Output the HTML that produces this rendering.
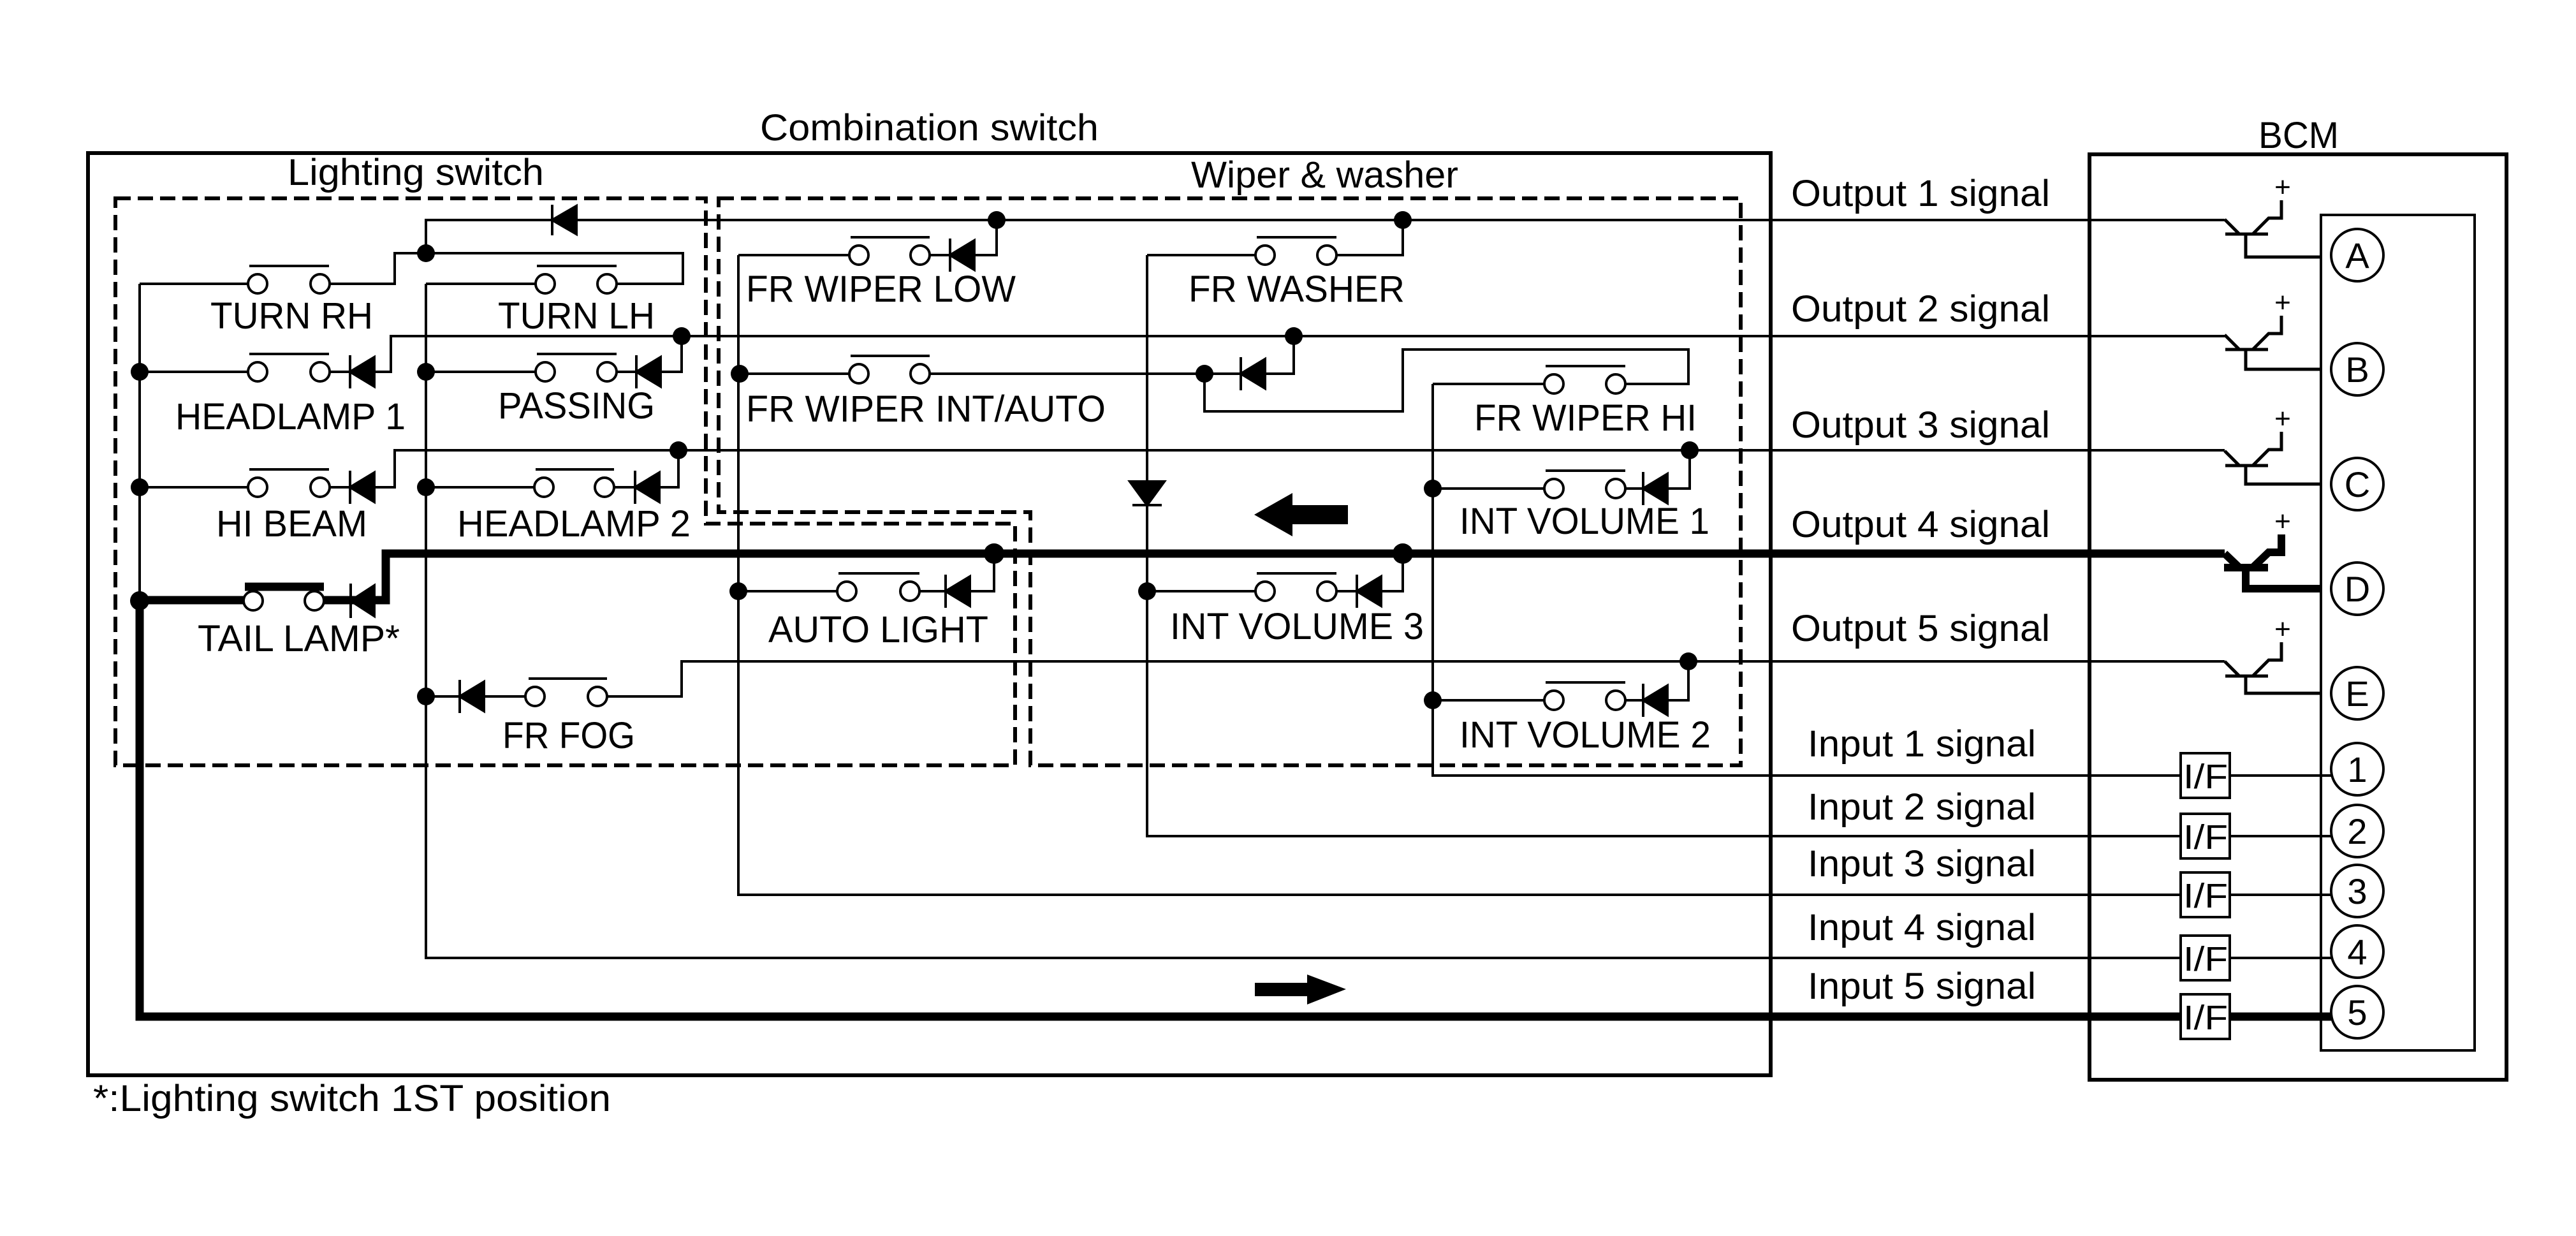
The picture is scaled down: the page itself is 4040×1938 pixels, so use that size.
<!DOCTYPE html>
<html><head><meta charset="utf-8"><style>
html,body{margin:0;padding:0;background:#fff}
svg{display:block}
text{font-family:"Liberation Sans",sans-serif;fill:#000}
</style></head><body>
<svg width="4040" height="1938" viewBox="0 0 4040 1938" xmlns="http://www.w3.org/2000/svg">
<g fill="none" stroke="#000" stroke-width="6">
<rect x="138" y="240" width="2639" height="1446"/>
<rect x="3277" y="242" width="654" height="1451"/>
</g>
<rect x="3640" y="337" width="241" height="1310" fill="none" stroke="#000" stroke-width="4"/>
<g fill="none" stroke="#000" stroke-width="6" stroke-dasharray="24,11">
<path d="M181,311 H1107 V821 H1592 V1200 H181 Z"/>
<path d="M1127,311 H2730 V1200 H1616 V803 H1127 Z"/>
</g>
<g fill="none" stroke="#000" stroke-width="4">
<path d="M219,445 V941"/>
<path d="M668,445 V1502 H3420"/>
<path d="M1158,400 V1403 H3420"/>
<path d="M1799,400 V1311 H3420"/>
<path d="M2247,602 V1216 H3420"/>
<path d="M219,445 H389 M517,445 H619 V397 H1071 V445 H967 M840,445 H668"/>
<path d="M668,397 V345 H3489"/>
<path d="M219,583 H389 M517,583 H560 M587,583 H613 V527 H3489"/>
<path d="M668,583 H840 M967,583 H1010 M1034,583 H1069 V527"/>
<path d="M219,764 H389 M517,764 H560 M587,764 H619 V706 H3489"/>
<path d="M668,764 H838 M963,764 H1008 M1034,764 H1064 V706"/>
<path d="M668,1092 H735 M759,1092 H824 M952,1092 H1069 V1037 H3489"/>
<path d="M1158,400 H1332 M1458,400 H1500 M1528,400 H1563 V345"/>
<path d="M1799,400 H1969 M2096,400 H2200 V345"/>
<path d="M1158,586 H1332 M1458,586 H1889 H1958 M1984,586 H2029 V527"/>
<path d="M1889,586 V645 H2200 V548 H2648 V602 H2549 M2422,602 H2247"/>
<path d="M2247,766 H2422 M2549,766 H2590 M2615,766 H2650 V706"/>
<path d="M1158,927 H1313 M1442,927 H1494 M1520,927 H1559 V868"/>
<path d="M1799,927 H1969 M2096,927 H2140 M2166,927 H2200 V868"/>
<path d="M2247,1098 H2422 M2549,1098 H2590 M2615,1098 H2648 V1037"/>
<path d="M3497,1216 H3656 M3497,1311 H3656 M3497,1403 H3656 M3497,1502 H3656"/>
</g>
<g fill="none" stroke="#000" stroke-width="13">
<path d="M219,941 V1594 H3420"/>
<path d="M219,941 H382 M508,941 H560 M587,941 H605 V868 H3489"/>
<path d="M384,920 H508"/>
<path d="M3497,1594 H3656"/>
</g>
<g stroke="#000" stroke-width="4">
<path d="M391,417 H516 M842,417 H967 M391,555 H516 M842,555 H967 M391,736 H516 M840,736 H963 M829,1064 H952"/>
<path d="M1334,372 H1458 M1971,372 H2096 M1334,558 H1458 M2424,574 H2549 M2424,738 H2549 M1315,899 H1442 M1971,899 H2096 M2424,1070 H2549"/>
</g>
<g fill="#fff" stroke="#000" stroke-width="4">
<circle cx="404" cy="445" r="15"/><circle cx="502" cy="445" r="15"/>
<circle cx="855" cy="445" r="15"/><circle cx="952" cy="445" r="15"/>
<circle cx="404" cy="583" r="15"/><circle cx="502" cy="583" r="15"/>
<circle cx="855" cy="583" r="15"/><circle cx="952" cy="583" r="15"/>
<circle cx="404" cy="764" r="15"/><circle cx="502" cy="764" r="15"/>
<circle cx="853" cy="764" r="15"/><circle cx="948" cy="764" r="15"/>
<circle cx="397" cy="942" r="15"/><circle cx="493" cy="942" r="15"/>
<circle cx="839" cy="1092" r="15"/><circle cx="937" cy="1092" r="15"/>
<circle cx="1347" cy="400" r="15"/><circle cx="1443" cy="400" r="15"/>
<circle cx="1984" cy="400" r="15"/><circle cx="2081" cy="400" r="15"/>
<circle cx="1347" cy="586" r="15"/><circle cx="1443" cy="586" r="15"/>
<circle cx="2437" cy="602" r="15"/><circle cx="2534" cy="602" r="15"/>
<circle cx="2437" cy="766" r="15"/><circle cx="2534" cy="766" r="15"/>
<circle cx="1328" cy="927" r="15"/><circle cx="1427" cy="927" r="15"/>
<circle cx="1984" cy="927" r="15"/><circle cx="2081" cy="927" r="15"/>
<circle cx="2437" cy="1098" r="15"/><circle cx="2534" cy="1098" r="15"/>
</g>
<g fill="#000" stroke="#000" stroke-width="4">
<path d="M866,345 L904,323 L904,367 Z M866,321 V369"/>
<path d="M549,583 L587,560 L587,606 Z M549,557 V609"/>
<path d="M998,583 L1036,560 L1036,606 Z M998,557 V609"/>
<path d="M549,764 L587,741 L587,787 Z M549,738 V790"/>
<path d="M996,764 L1034,741 L1034,787 Z M996,738 V790"/>
<path d="M550,942 L587,918 L587,966 Z M550,915 V969"/>
<path d="M721,1092 L759,1069 L759,1115 Z M721,1066 V1118"/>
<path d="M1490,400 L1528,377 L1528,423 Z M1490,374 V426"/>
<path d="M1946,586 L1984,563 L1984,609 Z M1946,560 V612"/>
<path d="M2577,766 L2615,743 L2615,789 Z M2577,740 V792"/>
<path d="M1483,927 L1521,904 L1521,950 Z M1483,901 V953"/>
<path d="M2128,927 L2166,904 L2166,950 Z M2128,901 V953"/>
<path d="M2577,1098 L2615,1075 L2615,1121 Z M2577,1072 V1124"/>
<path d="M1772,755 L1826,755 L1799,792 Z M1776,792 H1822"/>
</g>
<g fill="#000">
<circle cx="668" cy="397" r="14"/>
<circle cx="219" cy="583" r="14"/><circle cx="668" cy="583" r="14"/><circle cx="1069" cy="527" r="14"/>
<circle cx="219" cy="764" r="14"/><circle cx="668" cy="764" r="14"/><circle cx="1064" cy="706" r="14"/>
<circle cx="219" cy="942" r="15"/><circle cx="668" cy="1092" r="14"/>
<circle cx="1563" cy="345" r="14"/><circle cx="2200" cy="345" r="14"/>
<circle cx="1160" cy="586" r="14"/><circle cx="1889" cy="586" r="14"/><circle cx="2029" cy="527" r="14"/>
<circle cx="2247" cy="766" r="14"/><circle cx="2650" cy="706" r="14"/>
<circle cx="1158" cy="927" r="14"/><circle cx="1559" cy="868" r="16"/>
<circle cx="1799" cy="927" r="14"/><circle cx="2200" cy="868" r="16"/>
<circle cx="2247" cy="1098" r="14"/><circle cx="2648" cy="1037" r="14"/>
</g>
<polygon points="1967,807 2027,773 2027,792 2114,792 2114,822 2027,822 2027,841" fill="#000"/>
<polygon points="2111,1551 2050,1528 2050,1541 1968,1541 1968,1562 2050,1562 2050,1575" fill="#000"/>
<g fill="none" stroke="#000" stroke-width="5">
<path d="M3489,344 L3512,367 M3490,367 H3557 M3533,367 L3558,342 H3578 V314 M3522,367 V403 H3640"/>
<path d="M3489,525 L3512,548 M3490,548 H3557 M3533,548 L3558,523 H3578 V495 M3522,548 V579 H3640"/>
<path d="M3489,707 L3512,730 M3490,730 H3557 M3533,730 L3558,705 H3578 V677 M3522,730 V759 H3640"/>
<path d="M3489,1037 L3512,1060 M3490,1060 H3557 M3533,1060 L3558,1035 H3578 V1007 M3522,1060 V1087 H3640"/>
</g>
<g fill="none" stroke="#000" stroke-width="12">
<path d="M3489,868 L3512,890 M3488,890 H3557 M3533,890 L3558,866 H3578 V838 M3522,890 V923 H3640"/>
</g>
<g font-size="44" text-anchor="middle">
<text x="3580" y="308">+</text><text x="3580" y="489">+</text><text x="3580" y="671">+</text><text x="3580" y="832">+</text><text x="3580" y="1001">+</text>
</g>
<g fill="#fff" stroke="#000" stroke-width="4">
<circle cx="3697" cy="400" r="41"/><circle cx="3697" cy="579" r="41"/><circle cx="3697" cy="759" r="41"/><circle cx="3697" cy="923" r="41"/><circle cx="3697" cy="1087" r="41"/>
<circle cx="3697" cy="1206" r="41"/><circle cx="3697" cy="1303" r="41"/><circle cx="3697" cy="1397" r="41"/><circle cx="3697" cy="1492" r="41"/><circle cx="3697" cy="1587" r="41"/>
</g>
<g font-size="56" text-anchor="middle">
<text x="3697" y="420">A</text><text x="3697" y="599">B</text><text x="3697" y="779">C</text><text x="3697" y="943">D</text><text x="3697" y="1107">E</text>
<text x="3697" y="1226">1</text><text x="3697" y="1323">2</text><text x="3697" y="1417">3</text><text x="3697" y="1512">4</text><text x="3697" y="1607">5</text>
</g>
<g fill="#fff" stroke="#000" stroke-width="4">
<rect x="3420" y="1181" width="77" height="70"/><rect x="3420" y="1276" width="77" height="70"/><rect x="3420" y="1368" width="77" height="70"/><rect x="3420" y="1467" width="77" height="70"/><rect x="3420" y="1559" width="77" height="70"/>
</g>
<g font-size="54">
<text x="3424" y="1236" textLength="70" lengthAdjust="spacingAndGlyphs">I/F</text>
<text x="3424" y="1331" textLength="70" lengthAdjust="spacingAndGlyphs">I/F</text>
<text x="3424" y="1423" textLength="70" lengthAdjust="spacingAndGlyphs">I/F</text>
<text x="3424" y="1522" textLength="70" lengthAdjust="spacingAndGlyphs">I/F</text>
<text x="3424" y="1614" textLength="70" lengthAdjust="spacingAndGlyphs">I/F</text>
</g>
<g font-size="58">
<text x="1192" y="220" textLength="531" lengthAdjust="spacingAndGlyphs">Combination switch</text>
<text x="451" y="290" textLength="402" lengthAdjust="spacingAndGlyphs">Lighting switch</text>
<text x="1868" y="294" textLength="419" lengthAdjust="spacingAndGlyphs">Wiper &amp; washer</text>
<text x="3542" y="232" textLength="126" lengthAdjust="spacingAndGlyphs">BCM</text>
<text x="330" y="515" textLength="255" lengthAdjust="spacingAndGlyphs">TURN RH</text>
<text x="781" y="515" textLength="246" lengthAdjust="spacingAndGlyphs">TURN LH</text>
<text x="275" y="673" textLength="361" lengthAdjust="spacingAndGlyphs">HEADLAMP 1</text>
<text x="781" y="656" textLength="246" lengthAdjust="spacingAndGlyphs">PASSING</text>
<text x="339" y="841" textLength="237" lengthAdjust="spacingAndGlyphs">HI BEAM</text>
<text x="717" y="841" textLength="366" lengthAdjust="spacingAndGlyphs">HEADLAMP 2</text>
<text x="310" y="1021" textLength="317" lengthAdjust="spacingAndGlyphs">TAIL LAMP*</text>
<text x="788" y="1173" textLength="208" lengthAdjust="spacingAndGlyphs">FR FOG</text>
<text x="1170" y="473" textLength="423" lengthAdjust="spacingAndGlyphs">FR WIPER LOW</text>
<text x="1864" y="473" textLength="339" lengthAdjust="spacingAndGlyphs">FR WASHER</text>
<text x="1170" y="661" textLength="564" lengthAdjust="spacingAndGlyphs">FR WIPER INT/AUTO</text>
<text x="2312" y="675" textLength="349" lengthAdjust="spacingAndGlyphs">FR WIPER HI</text>
<text x="2289" y="837" textLength="392" lengthAdjust="spacingAndGlyphs">INT VOLUME 1</text>
<text x="1205" y="1007" textLength="345" lengthAdjust="spacingAndGlyphs">AUTO LIGHT</text>
<text x="1835" y="1002" textLength="398" lengthAdjust="spacingAndGlyphs">INT VOLUME 3</text>
<text x="2289" y="1172" textLength="394" lengthAdjust="spacingAndGlyphs">INT VOLUME 2</text>
<text x="2809" y="323" textLength="406" lengthAdjust="spacingAndGlyphs">Output 1 signal</text>
<text x="2809" y="504" textLength="406" lengthAdjust="spacingAndGlyphs">Output 2 signal</text>
<text x="2809" y="686" textLength="406" lengthAdjust="spacingAndGlyphs">Output 3 signal</text>
<text x="2809" y="842" textLength="406" lengthAdjust="spacingAndGlyphs">Output 4 signal</text>
<text x="2809" y="1005" textLength="406" lengthAdjust="spacingAndGlyphs">Output 5 signal</text>
<text x="2835" y="1186" textLength="358" lengthAdjust="spacingAndGlyphs">Input 1 signal</text>
<text x="2835" y="1285" textLength="358" lengthAdjust="spacingAndGlyphs">Input 2 signal</text>
<text x="2835" y="1374" textLength="358" lengthAdjust="spacingAndGlyphs">Input 3 signal</text>
<text x="2835" y="1474" textLength="358" lengthAdjust="spacingAndGlyphs">Input 4 signal</text>
<text x="2835" y="1566" textLength="358" lengthAdjust="spacingAndGlyphs">Input 5 signal</text>
<text x="146" y="1742" textLength="812" lengthAdjust="spacingAndGlyphs">*:Lighting switch 1ST position</text>
</g>
</svg>
</body></html>
